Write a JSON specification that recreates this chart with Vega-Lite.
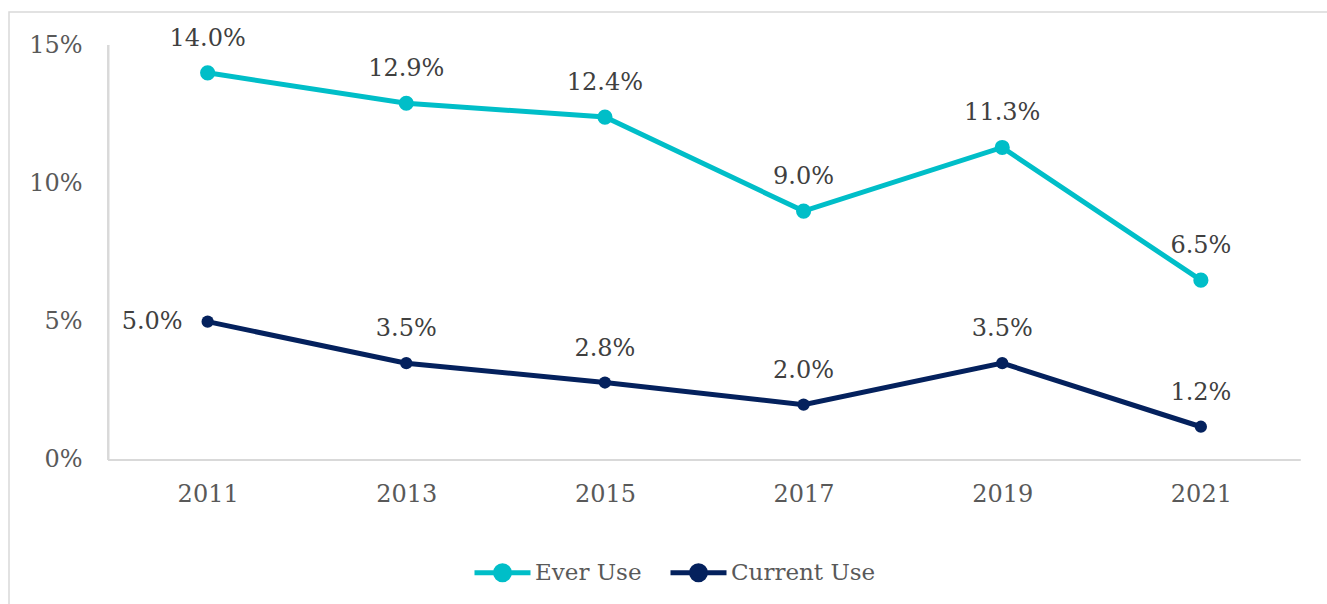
{
  "$schema": "https://vega.github.io/schema/vega-lite/v6.json",
  "width": 1321,
  "height": 600,
  "autosize": {"type": "none"},
  "padding": {"left": 9, "top": 12, "right": -3, "bottom": -8},
  "background": "white",
  "config": {
    "font": "DejaVu Serif",
    "view": {"stroke": "#D9D9D9", "strokeWidth": 1.5},
    "axis": {"grid": false, "domain": false, "ticks": false, "title": null, "labelFont": "DejaVu Serif", "labelFontSize": 24, "labelColor": "#595959"}
  },
  "data": {
    "values": [
      {"year": 2011, "series": "Ever Use", "value": 0.140},
      {"year": 2013, "series": "Ever Use", "value": 0.129},
      {"year": 2015, "series": "Ever Use", "value": 0.124},
      {"year": 2017, "series": "Ever Use", "value": 0.090},
      {"year": 2019, "series": "Ever Use", "value": 0.113},
      {"year": 2021, "series": "Ever Use", "value": 0.065},
      {"year": 2011, "series": "Current Use", "value": 0.050},
      {"year": 2013, "series": "Current Use", "value": 0.035},
      {"year": 2015, "series": "Current Use", "value": 0.028},
      {"year": 2017, "series": "Current Use", "value": 0.020},
      {"year": 2019, "series": "Current Use", "value": 0.035},
      {"year": 2021, "series": "Current Use", "value": 0.012}
    ]
  },
  "encoding": {
    "x": {
      "field": "year", "type": "quantitative",
      "scale": {"domain": [2009, 2022.3], "nice": false, "zero": false},
      "axis": {"orient": "bottom", "offset": -152, "values": [2011, 2013, 2015, 2017, 2019, 2021], "format": "d", "labelPadding": 22}
    },
    "y": {
      "field": "value", "type": "quantitative",
      "scale": {"domain": [-0.055, 0.162], "nice": false, "zero": false},
      "axis": {"orient": "left", "offset": -99, "values": [0, 0.05, 0.10, 0.15], "format": ".0%", "labelPadding": 26}
    },
    "color": {"field": "series", "type": "nominal",
      "scale": {"domain": ["Ever Use", "Current Use"], "range": ["#00BEC8", "#04215D"]},
      "legend": {
        "orient": "none", "legendX": 463, "legendY": 530, "direction": "horizontal", "title": null,
        "symbolType": "M -1 0 L 1 0 M -0.25 0 A 0.25 0.25 0 1 1 0.25 0 A 0.25 0.25 0 1 1 -0.25 0 Z",
        "symbolSize": 3136, "symbolStrokeWidth": 5, "symbolOpacity": 1,
        "labelFont": "DejaVu Serif", "labelFontSize": 23, "labelColor": "#595959",
        "labelOffset": 2, "columnPadding": 18,
        "encode": {"symbols": {"update": {"stroke": {"scale": "color", "field": "value"}, "fill": {"scale": "color", "field": "value"}}}}
      }
    }
  },
  "layer": [
    {
      "mark": {"type": "rule", "color": "#D9D9D9", "strokeWidth": 1.5},
      "encoding": {
        "x": {"datum": 2010, "type": "quantitative"},
        "x2": {"datum": 2022},
        "y": {"datum": 0, "type": "quantitative"},
        "color": null
      }
    },
    {
      "mark": {"type": "rule", "color": "#D9D9D9", "strokeWidth": 1.5},
      "encoding": {
        "x": {"datum": 2010, "type": "quantitative"},
        "y": {"datum": 0, "type": "quantitative"},
        "y2": {"datum": 0.15},
        "color": null
      }
    },
    {
      "mark": {"type": "line", "strokeWidth": 5}
    },
    {
      "mark": {"type": "point", "filled": true, "opacity": 1},
      "encoding": {
        "size": {"condition": {"test": "datum.series == 'Ever Use'", "value": 230}, "value": 150}
      }
    },
    {
      "transform": [{"filter": "!(datum.series == 'Current Use' && datum.year == 2011)"}],
      "mark": {"type": "text", "dy": -34, "baseline": "middle", "fontSize": 24, "color": "#404040"},
      "encoding": {"text": {"field": "value", "type": "quantitative", "format": ".1%"}, "color": null}
    },
    {
      "transform": [{"filter": "datum.series == 'Current Use' && datum.year == 2011"}],
      "mark": {"type": "text", "dx": -25, "align": "right", "baseline": "middle", "fontSize": 24, "color": "#404040"},
      "encoding": {"text": {"field": "value", "type": "quantitative", "format": ".1%"}, "color": null}
    }
  ]
}
